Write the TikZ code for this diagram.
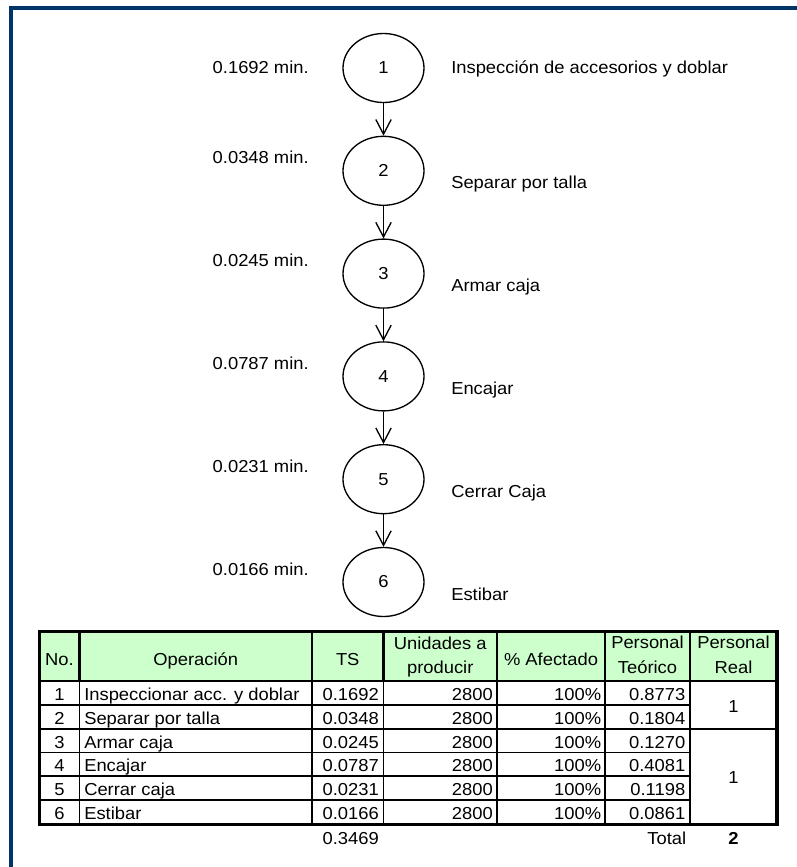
\documentclass[tikz,border=0pt]{standalone}
\usepackage{fontspec}
\setmainfont{Liberation Sans}[FakeStretch=1.06]
\usetikzlibrary{shapes.geometric,arrows.meta}

\definecolor{framenavy}{RGB}{0,51,102}
\definecolor{headgreen}{RGB}{204,255,204}

\begin{document}
\begin{tikzpicture}[x=0.75pt,y=-0.75pt,
  txt/.style={font=\fontsize{13}{18.4}\selectfont, inner sep=0pt},
  txtbold/.style={font=\fontsize{13}{18.4}\selectfont\bfseries, inner sep=0pt},
  opnode/.style={ellipse, draw, line width=1pt, minimum width=60.75pt,
    minimum height=51.75pt, inner sep=0pt, font=\fontsize{13}{18.4}\selectfont},
  flow/.style={line width=1pt, -{Straight Barb[length=11pt,width=11.5pt]}},
  frameline/.style={draw=framenavy, line width=3.2pt, line join=miter},
  gridthick/.style={line width=2.2pt},
  gridmid/.style={line width=1.3pt},
  gridthin/.style={line width=0.8pt},
]
% page area
\useasboundingbox (0,0) rectangle (796,867);
\fill[white] (0,0) rectangle (796,867);

% navy frame (top and left edges)
\draw[frameline] (11,872) -- (11,8) -- (800,8);

% ---------- flow of operations ----------
\node[opnode] (e1) at (383.5,68)    {1};
\node[opnode] (e2) at (383.5,170.8) {2};
\node[opnode] (e3) at (383.5,273.6) {3};
\node[opnode] (e4) at (383.5,376.4) {4};
\node[opnode] (e5) at (383.5,479.2) {5};
\node[opnode] (e6) at (383.5,582)   {6};

\draw[flow] (e1) -- (e2);
\draw[flow] (e2) -- (e3);
\draw[flow] (e3) -- (e4);
\draw[flow] (e4) -- (e5);
\draw[flow] (e5) -- (e6);

% standard times
\node[txt, anchor=base east] (t1) at (309,74)    {0.1692 min.};
\node[txt, anchor=base east] (t2) at (309,163.8) {0.0348 min.};
\node[txt, anchor=base east] (t3) at (309,266.6) {0.0245 min.};
\node[txt, anchor=base east] (t4) at (309,369.4) {0.0787 min.};
\node[txt, anchor=base east] (t5) at (309,472.2) {0.0231 min.};
\node[txt, anchor=base east] (t6) at (309,575)   {0.0166 min.};

% descriptions
\node[txt, anchor=base west] (d1) at (451,74)    {Inspección de accesorios y doblar};
\node[txt, anchor=base west] (d2) at (451,188.8) {Separar por talla};
\node[txt, anchor=base west] (d3) at (451,291.6) {Armar caja};
\node[txt, anchor=base west] (d4) at (451,394.4) {Encajar};
\node[txt, anchor=base west] (d5) at (451,497.2) {Cerrar Caja};
\node[txt, anchor=base west] (d6) at (451,600)   {Estibar};

% ---------- staffing table ----------
% column edges: 39.5 79.5 312 383.5 497 605 690 777
% row edges:    631.5 681 705 729 752.5 776 800 824.5
\fill[headgreen] (39.5,631.5) rectangle (777,681);

% header separators
\foreach \cx in {79.5,312,383.5,497,605,690}
  \draw[gridthick] (\cx,631.5) -- (\cx,681);
% body separators
\foreach \cx in {79.5,312,383.5,497,605}
  \draw[gridmid] (\cx,681) -- (\cx,824.5);
\draw[gridthick] (690,681) -- (690,824.5);

\draw[gridthick] (39.5,681) -- (777,681);
\draw[gridthin]  (39.5,705) -- (690,705);
\draw[gridthick] (39.5,729) -- (777,729);
\draw[gridmid]   (39.5,752.5) -- (690,752.5);
\draw[gridthick] (39.5,776) -- (690,776);
\draw[gridmid]   (39.5,800) -- (690,800);

\draw[gridthick, line width=2.4pt] (39.5,631.5) rectangle (777,824.5);

% header texts
\node[txt, anchor=base] (hno) at (59.5,665)   {No.};
\node[txt, anchor=base] (hop) at (195.75,665) {Operación};
\node[txt, anchor=base] (hts) at (347.75,665) {TS};
\node[txt, align=center] (hun) at (440.25,657) {Unidades a\\producir};
\node[txt, anchor=base] (haf) at (551,665)    {\% Afectado};
\node[txt, align=center] (hpt) at (647.5,655) {Personal\\Teórico};
\node[txt, align=center] (hpr) at (733.5,655) {Personal\\Real};

% body rows
\foreach \n/\op/\ts/\pt/\yb in {
    1/Inspeccionar acc. y doblar/0.1692/0.8773/700.5,
    2/Separar por talla/0.0348/0.1804/724.5,
    3/Armar caja/0.0245/0.1270/748,
    4/Encajar/0.0787/0.4081/771.5,
    5/Cerrar caja/0.0231/0.1198/795.5,
    6/Estibar/0.0166/0.0861/819.5}{
  \node[txt, anchor=base]      (no\n) at (59.5,\yb)  {\n};
  \node[txt, anchor=base west] (op\n) at (84,\yb)    {\op};
  \node[txt, anchor=base east] (ts\n) at (379,\yb)   {\ts};
  \node[txt, anchor=base east] (un\n) at (493,\yb)   {2800};
  \node[txt, anchor=base east] (af\n) at (601.5,\yb) {100\%};
  \node[txt, anchor=base east] (pt\n) at (685.5,\yb) {\pt};
}

% staff actually assigned (merged cells)
\node[txt] (pr1) at (733.5,707) {1};
\node[txt] (pr2) at (733.5,778) {1};

% totals
\node[txt, anchor=base east] (tssum) at (379,844)   {0.3469};
\node[txt, anchor=base east] (total) at (686.5,844) {Total};
\node[txtbold, anchor=base]  (prsum) at (733.5,844) {2};
\end{tikzpicture}
\end{document}
